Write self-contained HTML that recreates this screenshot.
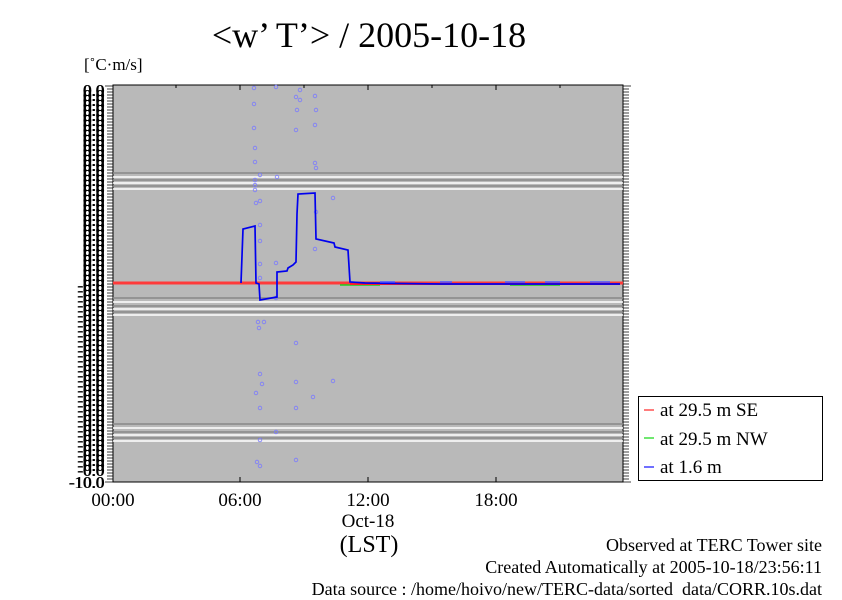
<!DOCTYPE html>
<html><head><meta charset="utf-8"><style>
body{margin:0;background:#fff;width:842px;height:595px;overflow:hidden}
svg text{font-family:"Liberation Serif",serif}
</style></head><body>
<svg width="842" height="595" viewBox="0 0 842 595" xmlns="http://www.w3.org/2000/svg">
<text x="369" y="47" font-size="36" text-anchor="middle">&lt;w’ T’&gt; / 2005-10-18</text>
<text x="84" y="70" font-size="17">[˚C·m/s]</text>
<rect x="113" y="85" width="510" height="397" fill="#b9b9b9" stroke="#000" stroke-width="1"/>
<g stroke-width="1.5">
<line x1="113" x2="623" y1="173" y2="173" stroke="#888"/><line x1="113" x2="623" y1="177" y2="177" stroke="#fff"/>
<line x1="113" x2="623" y1="180" y2="180" stroke="#888"/><line x1="113" x2="623" y1="183" y2="183" stroke="#fff"/>
<line x1="113" x2="623" y1="186" y2="186" stroke="#888"/><line x1="113" x2="623" y1="189" y2="189" stroke="#fff"/>
<line x1="113" x2="623" y1="298" y2="298" stroke="#888"/><line x1="113" x2="623" y1="302" y2="302" stroke="#fff"/>
<line x1="113" x2="623" y1="306" y2="306" stroke="#888"/><line x1="113" x2="623" y1="309" y2="309" stroke="#fff"/>
<line x1="113" x2="623" y1="312" y2="312" stroke="#888"/><line x1="113" x2="623" y1="315" y2="315" stroke="#fff"/>
<line x1="113" x2="623" y1="424" y2="424" stroke="#888"/><line x1="113" x2="623" y1="428" y2="428" stroke="#fff"/>
<line x1="113" x2="623" y1="432" y2="432" stroke="#888"/><line x1="113" x2="623" y1="435" y2="435" stroke="#fff"/>
<line x1="113" x2="623" y1="438" y2="438" stroke="#888"/><line x1="113" x2="623" y1="441" y2="441" stroke="#fff"/>
</g>
<g stroke="#000" stroke-width="1">
<path d="M240 85v5M368 85v5M496 85v5M176 85v3M304 85v3M432 85v3M560 85v3M240 482v-5M368 482v-5M496 482v-5"/>
</g>
<g stroke="#000" stroke-width="0.8" id="tk">
<path d="M113 86h-8M113 89h-6M113 92h-6M113 95h-6M113 98h-6M113 101h-6M113 104h-6M113 107h-6M113 110h-6M113 113h-6M113 116h-6M113 119h-6M113 122h-6M113 125h-6M113 128h-6M113 131h-6M113 134h-6M113 137h-6M113 140h-6M113 143h-6M113 146h-6M113 149h-6M113 152h-6M113 155h-6M113 158h-6M113 161h-6M113 164h-6M113 167h-6M113 170h-6M113 173h-6M113 176h-6M113 179h-6M113 182h-6M113 185h-6M113 188h-6M113 191h-6M113 194h-6M113 197h-6M113 200h-6M113 203h-6M113 206h-6M113 209h-6M113 212h-6M113 215h-6M113 218h-6M113 221h-6M113 224h-6M113 227h-6M113 230h-6M113 233h-6M113 236h-6M113 239h-6M113 242h-6M113 245h-6M113 248h-6M113 251h-6M113 254h-6M113 257h-6M113 260h-6M113 263h-6M113 266h-6M113 269h-6M113 272h-6M113 275h-6M113 278h-6M113 281h-6M113 284h-6M113 287h-6M113 290h-6M113 293h-6M113 296h-6M113 299h-6M113 302h-6M113 305h-6M113 308h-6M113 311h-6M113 314h-6M113 317h-6M113 320h-6M113 323h-6M113 326h-6M113 329h-6M113 332h-6M113 335h-6M113 338h-6M113 341h-6M113 344h-6M113 347h-6M113 350h-6M113 353h-6M113 356h-6M113 359h-6M113 362h-6M113 365h-6M113 368h-6M113 371h-6M113 374h-6M113 377h-6M113 380h-6M113 383h-6M113 386h-6M113 389h-6M113 392h-6M113 395h-6M113 398h-6M113 401h-6M113 404h-6M113 407h-6M113 410h-6M113 413h-6M113 416h-6M113 419h-6M113 422h-6M113 425h-6M113 428h-6M113 431h-6M113 434h-6M113 437h-6M113 440h-6M113 443h-6M113 446h-6M113 449h-6M113 452h-6M113 455h-6M113 458h-6M113 461h-6M113 464h-6M113 467h-6M113 470h-6M113 473h-6M113 476h-6M113 479h-6M113 482h-8"/>
</g>
<use href="#tk" transform="translate(736,0) scale(-1,1)"/>
<g font-size="17" text-anchor="end" fill="#000" id="yl">
<text x="104" y="96">0.0</text><text x="104" y="101">0.0</text><text x="104" y="106">0.0</text><text x="104" y="111">0.0</text><text x="104" y="116">0.0</text><text x="104" y="121">0.0</text><text x="104" y="126">0.0</text><text x="104" y="131">0.0</text><text x="104" y="136">0.0</text><text x="104" y="141">0.0</text><text x="104" y="146">0.0</text><text x="104" y="151">0.0</text><text x="104" y="156">0.0</text><text x="104" y="161">0.0</text><text x="104" y="166">0.0</text><text x="104" y="171">0.0</text><text x="104" y="176">0.0</text><text x="104" y="181">0.0</text><text x="104" y="186">0.0</text><text x="104" y="191">0.0</text><text x="104" y="196">0.0</text><text x="104" y="201">0.0</text><text x="104" y="206">0.0</text><text x="104" y="211">0.0</text><text x="104" y="216">0.0</text><text x="104" y="221">0.0</text><text x="104" y="226">0.0</text><text x="104" y="231">0.0</text><text x="104" y="236">0.0</text><text x="104" y="241">0.0</text><text x="104" y="246">0.0</text><text x="104" y="251">0.0</text><text x="104" y="256">0.0</text><text x="104" y="261">0.0</text><text x="104" y="266">0.0</text><text x="104" y="271">0.0</text><text x="104" y="276">0.0</text><text x="104" y="281">0.0</text><text x="104" y="286">0.0</text><text x="104" y="291">-0.0</text><text x="104" y="296">-0.0</text><text x="104" y="301">-0.0</text><text x="104" y="306">-0.0</text><text x="104" y="311">-0.0</text><text x="104" y="316">-0.0</text><text x="104" y="321">-0.0</text><text x="104" y="326">-0.0</text><text x="104" y="331">-0.0</text><text x="104" y="336">-0.0</text><text x="104" y="341">-0.0</text><text x="104" y="346">-0.0</text><text x="104" y="351">-0.0</text><text x="104" y="356">-0.0</text><text x="104" y="361">-0.0</text><text x="104" y="366">-0.0</text><text x="104" y="371">-0.0</text><text x="104" y="376">-0.0</text><text x="104" y="381">-0.0</text><text x="104" y="386">-0.0</text><text x="104" y="391">-0.0</text><text x="104" y="396">-0.0</text><text x="104" y="401">-0.0</text><text x="104" y="406">-0.0</text><text x="104" y="411">-0.0</text><text x="104" y="416">-0.0</text><text x="104" y="421">-0.0</text><text x="104" y="426">-0.0</text><text x="104" y="431">-0.0</text><text x="104" y="436">-0.0</text><text x="104" y="441">-0.0</text><text x="104" y="446">-0.0</text><text x="104" y="451">-0.0</text><text x="104" y="456">-0.0</text><text x="104" y="461">-0.0</text><text x="104" y="466">-0.0</text><text x="104" y="471">-0.0</text><text x="104" y="476">-0.0</text><text x="104" y="488">-10.0</text>
</g>
<use href="#yl" transform="translate(0.8,0)"/>
<g fill="none" stroke="#7a7aff" stroke-width="0.8">
<circle cx="254" cy="88" r="1.8"/><circle cx="254" cy="104" r="1.8"/><circle cx="254" cy="128" r="1.8"/><circle cx="255" cy="148" r="1.8"/><circle cx="255" cy="162" r="1.8"/><circle cx="255" cy="180" r="1.8"/><circle cx="255" cy="185" r="1.8"/><circle cx="255" cy="190" r="1.8"/><circle cx="256" cy="203" r="1.8"/><circle cx="260" cy="175" r="1.8"/><circle cx="260" cy="201" r="1.8"/><circle cx="260" cy="225" r="1.8"/><circle cx="260" cy="241" r="1.8"/><circle cx="260" cy="264" r="1.8"/><circle cx="260" cy="278" r="1.8"/><circle cx="258" cy="322" r="1.8"/><circle cx="259" cy="328" r="1.8"/><circle cx="260" cy="374" r="1.8"/><circle cx="256" cy="393" r="1.8"/><circle cx="260" cy="408" r="1.8"/><circle cx="260" cy="440" r="1.8"/><circle cx="257" cy="462" r="1.8"/><circle cx="260" cy="466" r="1.8"/><circle cx="276" cy="87" r="1.8"/><circle cx="277" cy="177" r="1.8"/><circle cx="276" cy="263" r="1.8"/><circle cx="276" cy="432" r="1.8"/><circle cx="296" cy="97" r="1.8"/><circle cx="296" cy="130" r="1.8"/><circle cx="297" cy="110" r="1.8"/><circle cx="300" cy="90" r="1.8"/><circle cx="300" cy="100" r="1.8"/><circle cx="296" cy="343" r="1.8"/><circle cx="296" cy="382" r="1.8"/><circle cx="296" cy="408" r="1.8"/><circle cx="296" cy="460" r="1.8"/><circle cx="315" cy="96" r="1.8"/><circle cx="316" cy="110" r="1.8"/><circle cx="315" cy="125" r="1.8"/><circle cx="315" cy="163" r="1.8"/><circle cx="316" cy="168" r="1.8"/><circle cx="316" cy="212" r="1.8"/><circle cx="315" cy="249" r="1.8"/><circle cx="313" cy="397" r="1.8"/><circle cx="333" cy="198" r="1.8"/><circle cx="333" cy="381" r="1.8"/><circle cx="264" cy="322" r="1.8"/><circle cx="262" cy="384" r="1.8"/><circle cx="276" cy="298" r="1.8"/>
</g>
<line x1="113" x2="623" y1="283" y2="283" stroke="#ff3a3a" stroke-width="3"/>
<path d="M340 285H380M420 284H470M510 285H560M580 284H610" stroke="#20d020" stroke-width="1.5"/>
<path d="M350 284H620" stroke="#ff2020" stroke-width="2"/>
<path d="M241 283L243 229L255 226L256 283L259 284L260 300L277 297L277 272L287 271L288 268L293 265L296 262L297 214L298 194L315 193L316 239L334 243L335 247L348 250L350 282L365 283L440 284L620 284" fill="none" stroke="#0000ee" stroke-width="1.7"/>
<path d="M380 282h15M440 282h12M505 282h20M545 282h15M590 282h20" stroke="#5050ff" stroke-width="1.5"/>
<g font-size="19" text-anchor="middle">
<text x="113" y="506">00:00</text><text x="240" y="506">06:00</text><text x="368" y="506">12:00</text><text x="496" y="506">18:00</text>
<text x="368" y="527">Oct-18</text>
</g>
<text x="369" y="552" font-size="24" text-anchor="middle">(LST)</text>
<rect x="638.5" y="396.5" width="184" height="84" fill="#fff" stroke="#000"/>
<g font-size="19">
<text x="660" y="416">at 29.5 m SE</text><text x="660" y="445">at 29.5 m NW</text><text x="660" y="473">at 1.6 m</text>
</g>
<path d="M644 410h10" stroke="#ff5050" stroke-width="1.5"/><path d="M644 438h10" stroke="#40e040" stroke-width="1.5"/><path d="M644 467h10" stroke="#4040ff" stroke-width="1.5"/>
<g font-size="18" text-anchor="end">
<text x="822" y="551">Observed at TERC Tower site</text>
<text x="822" y="573">Created Automatically at 2005-10-18/23:56:11</text>
<text x="822" y="595">Data source : /home/hoivo/new/TERC-data/sorted_data/CORR.10s.dat</text>
</g>
</svg>
</body></html>
